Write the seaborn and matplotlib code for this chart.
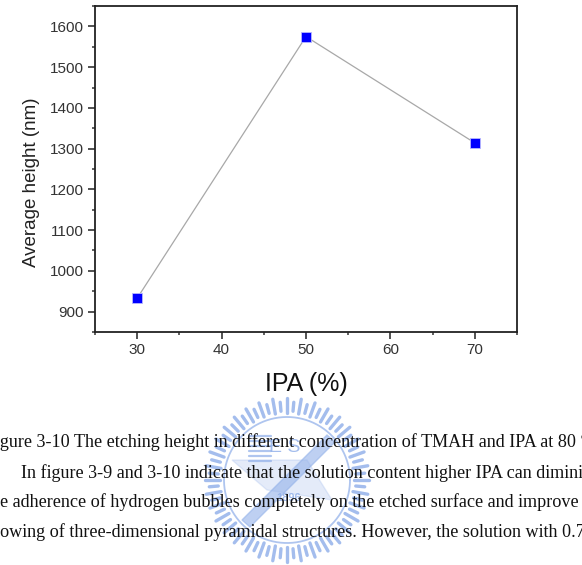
import numpy as np
import matplotlib
matplotlib.use("Agg")
import matplotlib.pyplot as plt
from matplotlib.ticker import MultipleLocator
from matplotlib.patches import Polygon
import seaborn as sns

# data
ipa = [30, 50, 70]
avg_height = [933, 1575, 1314]
x_ticks = [30, 40, 50, 60, 70]
y_ticks = [900, 1000, 1100, 1200, 1300, 1400, 1500, 1600]

caption = "Figure 3-10 The etching height in different concentration of TMAH and IPA at 80 \u00b0C."
body_lines = [
    "In figure 3-9 and 3-10 indicate that the solution content higher IPA can diminish",
    "the adherence of hydrogen bubbles completely on the etched surface and improve the",
    "growing of three-dimensional pyramidal structures. However, the solution with 0.75",
]
# parts of each line that fall off the left edge of the crop
cut_prefix = ["Fi", "", "th", "gr"]

sns.set_style("ticks")
plt.rcParams['font.family'] = ['Liberation Sans', 'DejaVu Sans']

W, H = 582, 565
fig = plt.figure(figsize=(W / 100, H / 100), dpi=100)

# faint watermark logo behind the text
cx, cy = 287 / W, 1 - 480 / H
wm = '#94b2ea'
for i, ang in enumerate(np.linspace(0, 2 * np.pi, 72, endpoint=False)):
    r0, r1 = (67, 82) if i % 2 == 0 else (69, 78)
    fig.add_artist(plt.Line2D([cx + r0 * np.cos(ang) / W, cx + r1 * np.cos(ang) / W],
                              [cy + r0 * np.sin(ang) / H, cy + r1 * np.sin(ang) / H],
                              color=wm, lw=2.4, alpha=0.85, zorder=0))
t = np.linspace(0, 2 * np.pi, 200)
fig.add_artist(plt.Line2D(cx + 63 * np.cos(t) / W, cy + 63 * np.sin(t) / H,
                          color=wm, lw=1.3, alpha=0.75, zorder=0))
fig.add_artist(Polygon([[cx - 45 / W, cy - 40 / H], [cx + 40 / W, cy + 45 / H],
                        [cx + 48 / W, cy + 38 / H], [cx - 37 / W, cy - 47 / H]],
                       closed=True, transform=fig.transFigure, color=wm, alpha=0.6, zorder=0))
fig.add_artist(Polygon([[cx - 55 / W, cy + 20 / H], [cx + 20 / W, cy + 20 / H],
                        [cx + 45 / W, cy - 20 / H], [cx - 20 / W, cy - 10 / H]],
                       closed=True, transform=fig.transFigure, color=wm, alpha=0.25, zorder=0))
for k in range(6):
    fig.add_artist(plt.Line2D([cx - 38 / W, cx - 16 / W],
                              [cy + (44 - 5 * k) / H, cy + (44 - 5 * k) / H],
                              color=wm, lw=1.6, alpha=0.75, zorder=0))
fig.text(cx - 2 / W, cy + 32 / H, "E S", fontsize=14, color=wm, alpha=0.85,
         ha='center', va='center', zorder=0)
fig.text(cx + 2 / W, cy - 18 / H, "1896", fontsize=8, color=wm, alpha=0.85,
         ha='center', va='center', fontweight='bold', zorder=0)

ax = fig.add_axes([95 / W, 1 - 332 / H, 422 / W, 326 / H])
sns.lineplot(x=ipa, y=avg_height, ax=ax, color='#a8a8a8', lw=0.9, zorder=2)
sns.scatterplot(x=ipa, y=avg_height, ax=ax, marker='s', s=50, color='#0000ff',
                edgecolor='#b8b8ff', linewidth=0.6, zorder=3)

ax.set_xlim(25, 75)
ax.set_ylim(850, 1650)
ax.set_xticks(x_ticks)
ax.set_yticks(y_ticks)
ax.xaxis.set_minor_locator(MultipleLocator(5))
ax.yaxis.set_minor_locator(MultipleLocator(50))
ax.tick_params(which='major', direction='out', length=5, width=1.2, colors='#333333',
               labelsize=11, pad=3, top=False, right=False)
ax.tick_params(which='minor', direction='out', length=2.5, width=1.1, colors='#333333',
               top=False, right=False)
for sp in ax.spines.values():
    sp.set_visible(True)
    sp.set_linewidth(1.3)
    sp.set_color('#222222')
ax.set_xlabel("IPA (%)", fontsize=18, color='#111111', labelpad=11)
ax.set_ylabel("Average height (nm)", fontsize=13.5, color='#222222')
ax.yaxis.set_label_coords(-0.13, 0.46)

# page text below the chart, cropped at both edges
serif = ['Liberation Serif', 'DejaVu Serif']
fs = 13.05
renderer = fig.canvas.get_renderer()
lines = [caption] + body_lines
x_start = [0, 21, 0, 0]
y_mid = [442, 473, 502, 532]
for txt, pre, x0, yc in zip(lines, cut_prefix, x_start, y_mid):
    shift = 0
    if pre:
        probe = fig.text(0, 0, pre + "x", fontsize=fs, family=serif)
        probe_x = fig.text(0, 0, "x", fontsize=fs, family=serif)
        shift = (probe.get_window_extent(renderer).width
                 - probe_x.get_window_extent(renderer).width)
        probe.remove()
        probe_x.remove()
    fig.text((x0 - shift) / W, 1 - yc / H, txt, fontsize=fs, family=serif,
             color='#111111', ha='left', va='center', zorder=2)

fig.savefig("out.png", dpi=100)
